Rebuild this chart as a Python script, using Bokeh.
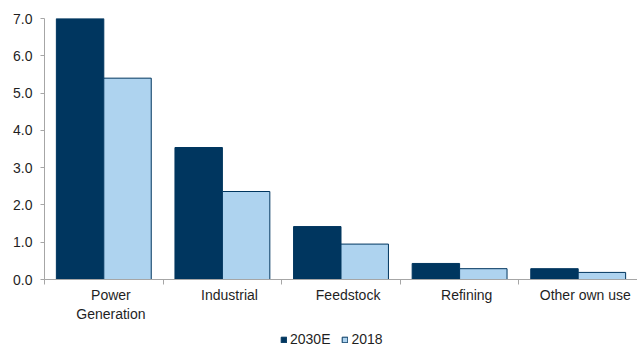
import numpy as np
from bokeh.plotting import figure
from bokeh.layouts import column
from bokeh.models import FixedTicker, Legend, LegendItem, Range1d, CustomJSTickFormatter
from bokeh.embed import file_html
from bokeh.resources import INLINE

categories = ["Power\nGeneration", "Industrial", "Feedstock", "Refining", "Other own use"]
values_2030 = [7.0, 3.54, 1.42, 0.43, 0.29]
values_2018 = [5.4, 2.36, 0.95, 0.29, 0.19]
series_names = ["2030E", "2018"]
y_ticks = [0, 1, 2, 3, 4, 5, 6, 7]

DARK = "#00365f"
LIGHT = "#aed3ef"
AXIS = "#a6a6a6"
TEXT = "#1f1f1f"
FONT = "Liberation Sans"
FS = "14px"

n = len(categories)
idx = np.arange(n)

p = figure(frame_width=593, frame_height=261, output_backend="svg", toolbar_location=None,
           x_range=Range1d(0, n), y_range=Range1d(0, 7),
           min_border_left=44, min_border_right=0, min_border_top=18, min_border_bottom=0)
p.outline_line_color = None
p.xgrid.visible = False
p.ygrid.visible = False

p.vbar(x=idx + 0.3, top=values_2030, width=0.4, fill_color=DARK, line_color=DARK, line_width=1)
p.vbar(x=idx + 0.7, top=values_2018, width=0.4, fill_color=LIGHT, line_color=DARK, line_width=1)

label_pos = [float(i + 0.56) for i in idx]
xa = p.xaxis[0]
xa.ticker = FixedTicker(ticks=label_pos, minor_ticks=list(range(n + 1)))
xa.major_label_overrides = {pos: c for pos, c in zip(label_pos, categories)}
xa.major_tick_line_color = None
xa.major_tick_out = 0
xa.major_tick_in = 0
xa.minor_tick_line_color = AXIS
xa.minor_tick_out = 5
xa.minor_tick_in = 0
xa.axis_line_color = AXIS
xa.major_label_text_font = FONT
xa.major_label_text_font_size = FS
xa.major_label_text_color = TEXT
xa.major_label_standoff = 2

ya = p.yaxis[0]
ya.ticker = FixedTicker(ticks=y_ticks, minor_ticks=[])
ya.formatter = CustomJSTickFormatter(code="return tick.toFixed(1);")
ya.axis_line_color = AXIS
ya.major_tick_line_color = AXIS
ya.major_tick_out = 4
ya.major_tick_in = 0
ya.minor_tick_line_color = None
ya.major_label_text_font = FONT
ya.major_label_text_font_size = FS
ya.major_label_text_color = TEXT
ya.major_label_standoff = 8

# legend strip below the chart (series swatches use the same data, outside the strip's view)
lf = figure(frame_width=593, height=24, output_backend="svg", toolbar_location=None,
            x_axis_type=None, y_axis_type=None,
            x_range=Range1d(0, n), y_range=Range1d(100, 101),
            min_border_left=44, min_border_right=0, min_border_top=0, min_border_bottom=0)
lf.outline_line_color = None
lf.xgrid.visible = False
lf.ygrid.visible = False
l1 = lf.vbar(x=idx + 0.3, top=values_2030, width=0.4, fill_color=DARK, line_color=DARK, line_width=1)
l2 = lf.vbar(x=idx + 0.7, top=values_2018, width=0.4, fill_color=LIGHT, line_color=DARK, line_width=1)
legend = Legend(items=[LegendItem(label=series_names[0], renderers=[l1]),
                       LegendItem(label=series_names[1], renderers=[l2])],
                orientation="horizontal", location=(236, 1),
                border_line_color=None, background_fill_alpha=0,
                label_text_font=FONT, label_text_font_size=FS,
                label_text_color=TEXT, glyph_width=7, glyph_height=7,
                label_standoff=3, spacing=11, padding=0, margin=0,
                label_height=14)
lf.add_layout(legend)

layout = column(p, lf, spacing=0)
open("out.html", "w").write(file_html(layout, INLINE))
